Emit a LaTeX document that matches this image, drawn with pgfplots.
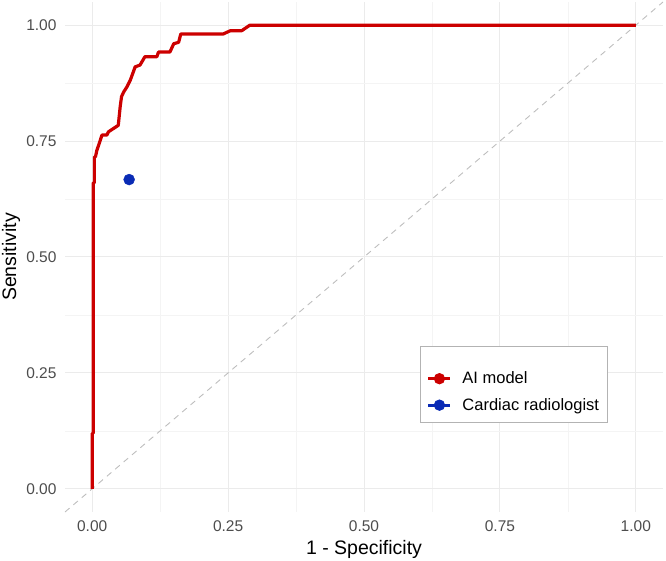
\documentclass[border=0pt]{standalone}
\usepackage{pgfplots}
\pgfplotsset{compat=1.18}
\usepackage{fontspec}
\setmainfont{Liberation Sans}
\definecolor{roc}{HTML}{CC0000}
\definecolor{rad}{HTML}{0A2BB5}
\definecolor{gridmaj}{HTML}{EBEBEB}
\definecolor{gridmin}{HTML}{F4F4F4}
\definecolor{ticktext}{HTML}{4D4D4D}
\definecolor{diag}{HTML}{BEBEBE}
\definecolor{legframe}{HTML}{B3B3B3}

\begin{document}
\begin{tikzpicture}
\begin{axis}[
  scale only axis,
  width=598pt, height=510pt,
  xmin=-0.05, xmax=1.05, ymin=-0.05, ymax=1.05,
  xtick={0,0.25,0.5,0.75,1}, ytick={0,0.25,0.5,0.75,1},
  minor xtick={0.125,0.375,0.625,0.875},
  minor ytick={0.125,0.375,0.625,0.875},
  xticklabels={0.00,0.25,0.50,0.75,1.00},
  yticklabels={0.00,0.25,0.50,0.75,1.00},
  axis line style={draw=none},
  major tick length=0pt, minor tick length=0pt,
  grid=both,
  major grid style={gridmaj, line width=1pt},
  minor grid style={gridmin, line width=0.6pt},
  tick label style={font=\fontsize{15.5}{17}\selectfont, text=ticktext},
  xticklabel style={yshift=-5pt},
  yticklabel style={xshift=-5pt},
  xlabel={1 - Specificity}, ylabel={Sensitivity},
  label style={font=\fontsize{19.5}{21}\selectfont},
  xlabel style={at={(axis description cs:0.5,0)}, anchor=center, yshift=-37pt},
  ylabel style={at={(axis description cs:0,0.5)}, anchor=center, yshift=54pt},
  legend style={at={(axis cs:0.603,0.308)}, anchor=north west,
    draw=legframe, line width=0.9pt, fill=white,
    font=\fontsize{16.5}{18}\selectfont,
    inner xsep=6pt, inner ysep=9pt, row sep=9pt},
  legend cell align=left,
  legend image code/.code={%
    \path[draw=none, fill=none] (-2pt,0pt) -- (32pt,0pt);
    \draw[#1, line width=3.2pt] (0pt,0pt) -- (22pt,0pt);
    \fill[#1] (11pt,0pt) circle (5.2pt);},
]
% chance line
\addplot[diag, line width=0.9pt, dash pattern=on 6pt off 5pt, forget plot]
  coordinates {(-0.05,-0.05) (1.05,1.05)};
% ROC curve of the AI model
\addplot[roc, line width=3.2pt, line join=round, forget plot] coordinates {
(0,0) (0,0.12) (0.002,0.12) (0.002,0.66) (0.004,0.66) (0.004,0.716)
(0.006,0.716) (0.0086,0.73) (0.013,0.745) (0.018,0.763) (0.027,0.763)
(0.030,0.770) (0.039,0.777) (0.048,0.784) (0.0515,0.824) (0.054,0.846)
(0.058,0.856) (0.064,0.867) (0.070,0.881) (0.079,0.910) (0.088,0.914)
(0.097,0.932) (0.119,0.932) (0.122,0.942) (0.143,0.942) (0.150,0.960)
(0.159,0.963) (0.163,0.981) (0.241,0.981) (0.254,0.988) (0.275,0.988)
(0.290,1.0) (1,1)};
% cardiac radiologist
\addplot[only marks, mark=*, mark size=5.5pt, rad, forget plot]
  coordinates {(0.068,0.667)};
\addlegendimage{empty legend}
\addlegendentry{}
\addlegendimage{roc}
\addlegendentry{AI model}
\addlegendimage{rad}
\addlegendentry{Cardiac radiologist}
\end{axis}
\pgfresetboundingbox
\useasboundingbox ([xshift=-65pt,yshift=-48pt]current axis.south west)
  rectangle ([xshift=3pt,yshift=2pt]current axis.north east);
\end{tikzpicture}
\end{document}
